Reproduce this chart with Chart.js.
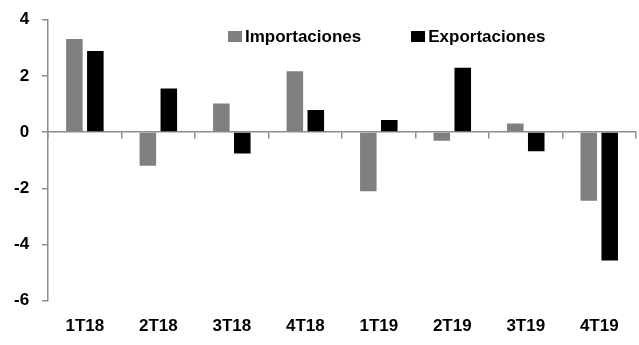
<!DOCTYPE html>
<html lang="es">
<head>
<meta charset="utf-8">
<title>Importaciones y Exportaciones</title>
<script src="https://cdn.jsdelivr.net/npm/chart.js@4/dist/chart.umd.min.js"></script>
<style>
  body { margin: 0; background: #ffffff; }
  #wrap { position: relative; width: 639px; height: 345px; }
  #leyenda {
    position: absolute; left: 228px; top: 27px;
    font: bold 17px 'Liberation Sans', Arial, sans-serif;
    line-height: 20px; white-space: nowrap; color: #000;
  }
  #leyenda .item { display: inline-block; margin-right: 50px; }
  #leyenda .caja { display: inline-block; width: 14px; height: 11px; margin-right: 3px; vertical-align: baseline; }
</style>
</head>
<body>
<div id="wrap">
  <canvas id="grafico" width="639" height="345"></canvas>
  <div id="leyenda"></div>
</div>
<script>
// Variación trimestral (%)
const trimestres = ['1T18', '2T18', '3T18', '4T18', '1T19', '2T19', '3T19', '4T19'];
const importaciones = [3.32, -1.2, 1.02, 2.17, -2.11, -0.31, 0.31, -2.44];
const exportaciones = [2.89, 1.55, -0.76, 0.79, 0.43, 2.29, -0.68, -4.57];
const ticksY = [-6, -4, -2, 0, 2, 4];

const FUENTE = "'Liberation Sans', Arial, sans-serif";
const GRIS_EJE = '#8c8c8c';

const ctx = document.getElementById('grafico');

const chart = new Chart(ctx, {
    type: 'bar',
    data: {
        labels: trimestres,
        datasets: [
            {
                label: 'Importaciones',
                data: importaciones,
                backgroundColor: '#808080',
                categoryPercentage: 0.57,
                barPercentage: 0.79
            },
            {
                label: 'Exportaciones',
                data: exportaciones,
                backgroundColor: '#000000',
                categoryPercentage: 0.57,
                barPercentage: 0.79
            }
        ]
    },
    options: {
        responsive: false,
        animation: false,
        layout: {
            padding: { top: 1, right: 3, bottom: 0, left: 1 }
        },
        scales: {
            // eje en cero: solo la línea y las marcas entre trimestres
            x: {
                type: 'category',
                position: { y: 0 },
                offset: true,
                grid: {
                    offset: true,
                    drawOnChartArea: false,
                    tickLength: 6,
                    color: GRIS_EJE,
                    lineWidth: 1.5
                },
                border: { color: GRIS_EJE, width: 1.5 },
                ticks: { display: false }
            },
            // etiquetas de trimestres abajo
            xEtiquetas: {
                type: 'category',
                axis: 'x',
                position: 'bottom',
                offset: true,
                grid: { display: false },
                border: { display: false },
                ticks: {
                    color: '#000',
                    padding: 8,
                    maxRotation: 0,
                    font: { family: FUENTE, size: 17, weight: 'bold' }
                }
            },
            y: {
                min: -6,
                max: 4,
                afterBuildTicks: (scale) => {
                    scale.ticks = ticksY.map(v => ({ value: v }));
                },
                grid: {
                    drawOnChartArea: false,
                    tickLength: 6,
                    color: GRIS_EJE,
                    lineWidth: 1.5
                },
                border: { color: GRIS_EJE, width: 1.5 },
                ticks: {
                    color: '#000',
                    padding: 13,
                    font: { family: FUENTE, size: 17, weight: 'bold', lineHeight: 0.8 }
                }
            }
        },
        plugins: {
            legend: { display: false },
            tooltip: { enabled: false }
        }
    }
});

// Leyenda en HTML, construida desde los datasets
const leyenda = document.getElementById('leyenda');
chart.data.datasets.forEach(ds => {
    const item = document.createElement('span');
    item.className = 'item';
    const caja = document.createElement('span');
    caja.className = 'caja';
    caja.style.background = ds.backgroundColor;
    item.appendChild(caja);
    item.appendChild(document.createTextNode(ds.label));
    leyenda.appendChild(item);
});
</script>
</body>
</html>
